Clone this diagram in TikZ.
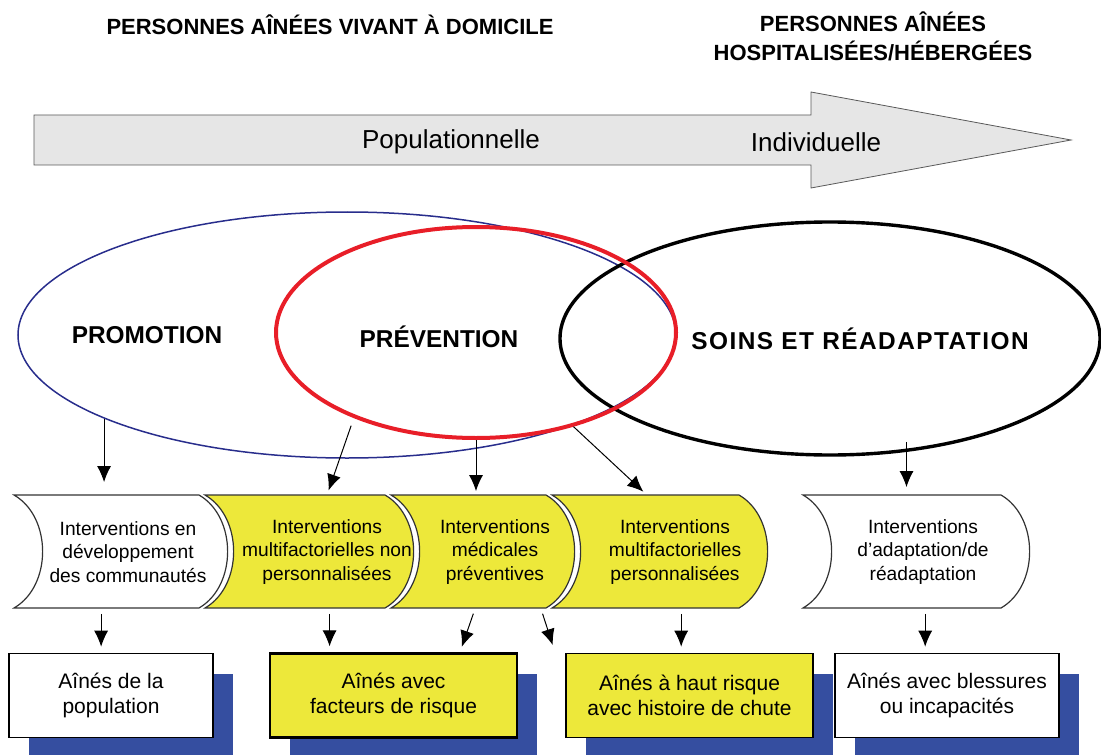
\documentclass[tikz,border=0pt]{standalone}
\usepackage{xcolor}
\usepackage{fontspec}
\setmainfont{Liberation Sans}
\usepackage{tikz}
\usetikzlibrary{calc}
\usetikzlibrary{arrows.meta}
\usetikzlibrary{shapes}
\usetikzlibrary{shapes.geometric}
\usetikzlibrary{shadows}
\definecolor{jaune}{RGB}{237,232,58}
\definecolor{ombre}{RGB}{53,78,160}
\definecolor{bleu}{RGB}{40,45,140}
\definecolor{rouge}{RGB}{232,30,40}
\definecolor{fleche}{RGB}{230,230,230}
\tikzset{>=latex}
\tikzstyle{arr} = [-{Latex[length=8pt, width=7pt]}, line width=0.5pt]
\tikzstyle{cercle} = [ellipse, inner sep = 0]
\tikzstyle{titre} = [font=\fontsize{11}{14.5}\selectfont\bfseries, align=center]
\tikzstyle{domaine} = [font=\fontsize{12.2}{15}\selectfont\bfseries]
\tikzstyle{interv} = [align=center, inner sep = 0, minimum height = 56.5pt, font=\fontsize{9.6}{11.75}\selectfont]
\tikzstyle{aines} = [rectangle, draw, line width=0.8pt, align=center, minimum height=42pt, font=\fontsize{10.5}{12.5}\selectfont, drop shadow={shadow xshift=10pt, shadow yshift=-10pt, fill=ombre, opacity=1}]

\begin{document}
\begin{tikzpicture}[x=0.5pt, y=0.5pt]
\useasboundingbox (0, 0) rectangle (1101, -754);
% titres
\node [titre] (dom) at (330, -25) {PERSONNES AÎNÉES VIVANT À DOMICILE};
\node [titre] (hosp) at (873, -36) {PERSONNES AÎNÉES\\HOSPITALISÉES/HÉBERGÉES};
% grande fleche
\draw [fill = fleche, draw = black!65] (34, -115) -- (811, -115) -- (811, -92) -- (1071, -140) -- (811, -188) -- (811, -165) -- (34, -165) -- cycle;
\node [font=\fontsize{13}{15}\selectfont] (popu) at (451, -142) {Populationnelle};
\node [font=\fontsize{13}{15}\selectfont] (indiv) at (816, -142) {Individuelle};
% ellipses
\node [cercle, draw = bleu, line width = 0.75pt, minimum width = 329pt, minimum height = 123pt] (promo) at (347, -335) {};
\node [cercle, draw = black, line width = 1.7pt, minimum width = 270pt, minimum height = 116.5pt] (soins) at (830, -338.5) {};
\node [cercle, draw = rouge, line width = 2pt, minimum width = 200pt, minimum height = 105.5pt] (prev) at (476, -332.5) {};
\node [domaine] (tpromo) at (147, -335) {PROMOTION};
\node [domaine] (tprev) at (439, -337) {PRÉVENTION};
\node [domaine] (tsoins) at (860, -339) {\addfontfeature{LetterSpace=6}SOINS ET RÉADAPTATION};
% interventions
\foreach \l/\r/\c in {14/199/white, 205/385/jaune, 391/546/jaune, 552/739/jaune, 803/1001/white}
  \draw [fill = \c, draw = black!80, line width = 0.6pt] (\l, -495) -- (\r, -495) to [bend left = 60] (\r, -608) -- (\l, -608) to [bend right = 60] (\l, -495) -- cycle;
\node [interv] (i1) at (128, -552) {Interventions en\\développement\\des communautés};
\node [interv] (i2) at (327, -552) {Interventions\\multifactorielles non\\personnalisées};
\node [interv] (i3) at (495, -552) {Interventions\\médicales\\préventives};
\node [interv] (i4) at (675, -552) {Interventions\\multifactorielles\\personnalisées};
\node [interv] (i5) at (923, -552) {Interventions\\d'adaptation/de\\réadaptation};
% aines
\node [aines, fill = white, minimum width = 102pt] (b1) at (111, -695.5) {Aînés de la\\population};
\node [aines, fill = jaune, minimum width = 123.5pt, line width = 1.1pt] (b2) at (393.5, -695.5) {Aînés avec\\facteurs de risque};
\node [aines, fill = jaune, minimum width = 123.5pt] (b3) at (689.5, -695.5) {Aînés à haut risque\\avec histoire de chute};
\node [aines, fill = white, minimum width = 112pt] (b4) at (947, -695.5) {Aînés avec blessures\\ou incapacités};
% fleches
\draw [arr, shorten >= 6.5pt] (promo.199) -- (promo.199 |- i1.north);
\draw [arr, shorten <= 4pt, shorten >= 2.5pt] (prev.215) -- (i2.north);
\draw [arr, shorten >= 2pt] (prev.south) -- (prev.south |- i3.north);
\draw [arr, shorten >= 2.5pt] (prev.316) -- ([xshift = -14pt]i4.north);
\draw [arr, shorten <= -5pt, shorten >= 4pt] (soins.304) -- (soins.304 |- i5.north);
\draw [arr, shorten <= 2.5pt, shorten >= 3pt] (i1.south -| b1.103) -- (b1.103);
\draw [arr, shorten <= 2.5pt, shorten >= 3pt] (i2.south -| b2.146) -- (b2.146);
\draw [arr, shorten <= 2.5pt, shorten >= 3pt] ([xshift = -10pt]i3.south) -- (b2.33);
\draw [arr, shorten <= 2.5pt, shorten >= 4pt] ([xshift = 23pt]i3.south) -- ([xshift = -5pt]b3.north west);
\draw [arr, shorten <= 2.5pt, shorten >= 3pt] (i4.south -| b3.101) -- (b3.101);
\draw [arr, shorten <= 2.5pt, shorten >= 3pt] (i5.south -| b4.117) -- (b4.117);
\end{tikzpicture}
\end{document}
